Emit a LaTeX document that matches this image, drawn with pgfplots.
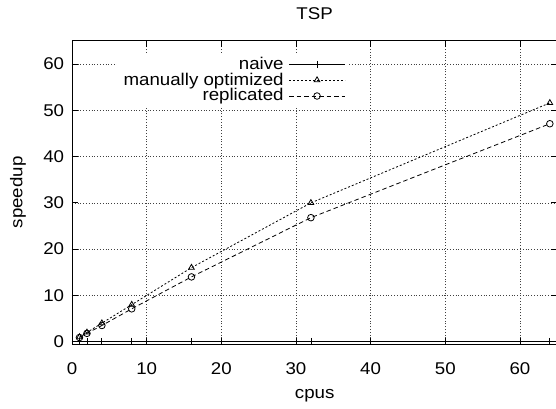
\documentclass[border=0pt]{standalone}
\usepackage{fontspec}
\setmainfont{Liberation Sans}[FakeStretch=1.1]
\usepackage{pgfplots}
\pgfplotsset{compat=1.18}
\begin{document}
\fontsize{17}{20}\selectfont
\begin{tikzpicture}
\begin{axis}[
    at={(0,0)}, anchor=south west,
    scale only axis,
    width=485.3pt, height=303.1pt,
    xmin=0, xmax=65, ymin=-0.5, ymax=65,
    xtick={0,10,...,60}, ytick={0,10,...,60},
    tick align=inside,
    major tick length=6pt,
    tick style={black, line width=0.8pt},
    axis line style={line width=0.9pt},
    grid=major,
    grid style={black!75, line width=0.7pt, dash pattern=on 1pt off 1.8pt},
    /pgf/number format/assume math mode=true,
    xticklabel style={yshift=-13pt},
    yticklabel style={xshift=-2pt},
    title={TSP},
    title style={at={(0.5,1)}, anchor=center, yshift=21pt},
    xlabel={cpus},
    xlabel style={at={(0.5,0)}, anchor=center, yshift=-52pt},
    ylabel={speedup},
    ylabel style={at={(-0.1113,0.5)}, anchor=center},
    legend style={at={(0.568,0.958)}, anchor=north east, draw=none, fill=white,
        row sep=-3pt, inner xsep=2pt, inner ysep=1pt,
        nodes={inner xsep=5pt}},
    legend cell align=right,
    legend plot pos=right,
    legend image code/.code={\draw[mark repeat=2,mark phase=2,#1]
        plot coordinates {(0pt,0pt) (28pt,0pt) (56pt,0pt)};},
    every axis plot/.append style={line width=0.8pt, black},
    mark size=3.3pt,
]
\addplot[solid, mark=+, mark options={solid}] coordinates {
    (1,0.1) (2,0.1) (4,0.1) (8,0.1) (16,0.1) (32,0.1) (64,0.1)
};
\addlegendentry{naive}
\addplot[dash pattern=on 2pt off 2pt, mark=triangle, mark options={solid}] coordinates {
    (1,1.0) (2,2.0) (4,4.0) (8,8.0) (16,16.0) (32,30.0) (64,51.6)
};
\addlegendentry{manually optimized}
\addplot[dash pattern=on 4.5pt off 3pt, mark=o, mark options={solid}] coordinates {
    (1,0.9) (2,1.8) (4,3.5) (8,7.1) (16,14.0) (32,26.8) (64,47.1)
};
\addlegendentry{replicated}
\end{axis}
\pgfresetboundingbox
\path (-72pt,-64pt) rectangle (484pt,344pt);
\end{tikzpicture}
\end{document}
